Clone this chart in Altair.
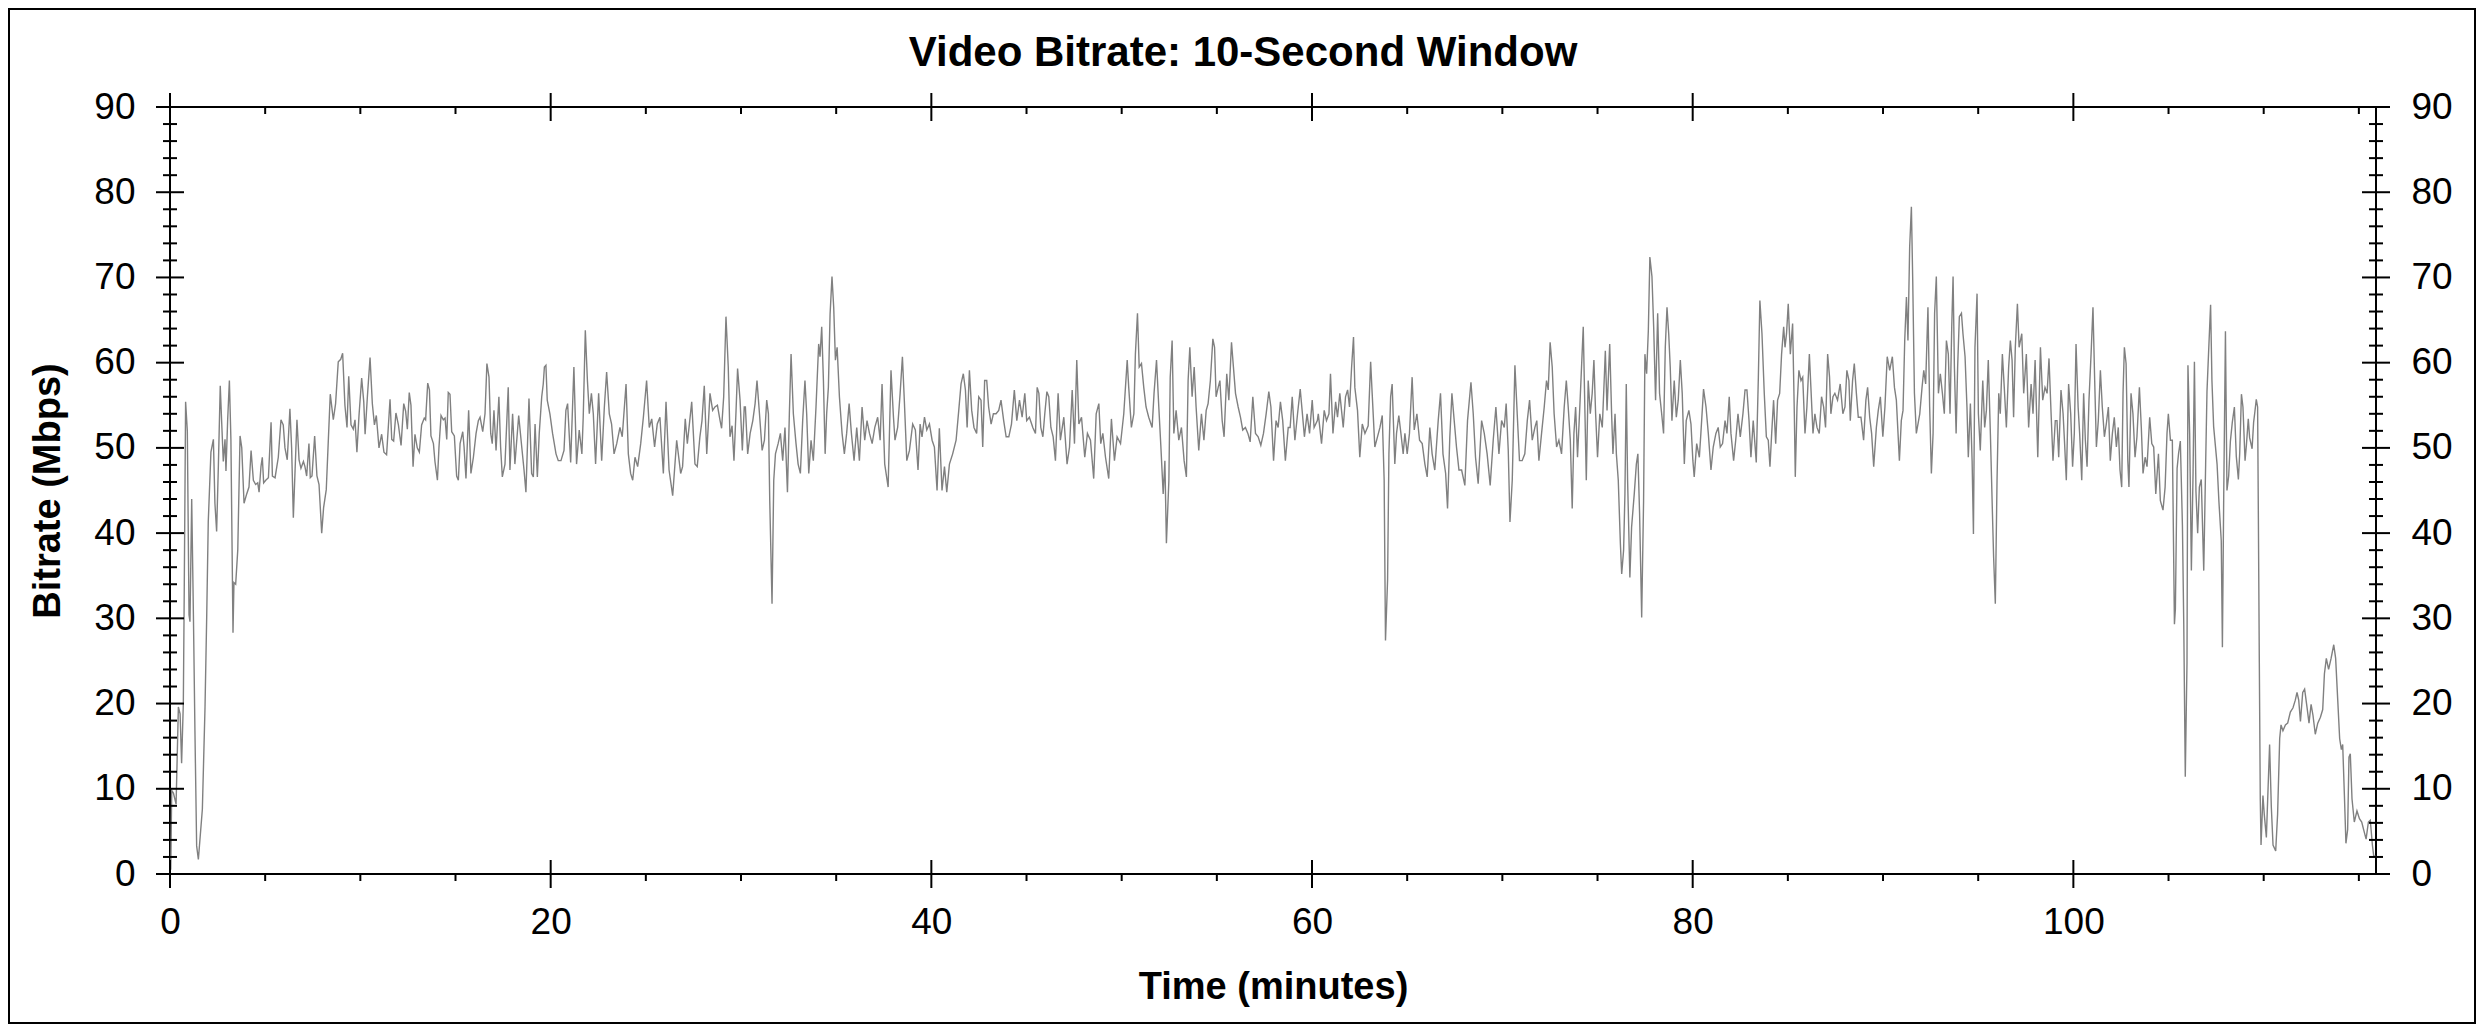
import altair as alt
import pandas as pd

# -----------------------------
# Layout / styling
# -----------------------------
W, H = 2206, 767
X_MAX = 115.9
FONT = "Liberation Sans"
LINE_COLOR = "#808080"
TITLE = "Video Bitrate: 10-Second Window"

# -----------------------------
# Data: (minutes, Mbps), one list per ~15 min
# -----------------------------
seg_00_15 = [
    (0.04, 0.5), (0.09, 9.8), (0.18, 9.5), (0.32, 8.2), (0.44, 19.6), (0.53, 18.8),
    (0.61, 13.0), (0.70, 20.0), (0.75, 33.7), (0.82, 55.4), (0.91, 52.0), (1.00, 30.4),
    (1.05, 29.6), (1.14, 44.0), (1.23, 30.4), (1.31, 16.8), (1.40, 3.3), (1.49, 1.7),
    (1.70, 7.6), (1.84, 19.6), (1.93, 30.4), (2.01, 41.3), (2.15, 49.5), (2.28, 51.0),
    (2.36, 43.5), (2.45, 40.2), (2.54, 47.8), (2.64, 57.3), (2.71, 53.3), (2.80, 48.4),
    (2.89, 51.0), (2.94, 47.3), (3.03, 53.3), (3.12, 57.9), (3.20, 51.0), (3.31, 28.3),
    (3.36, 34.2), (3.45, 34.0), (3.56, 38.0), (3.68, 51.4), (3.77, 50.0), (3.89, 43.5),
    (4.03, 44.6), (4.15, 45.4), (4.26, 49.7), (4.38, 46.2), (4.50, 45.7), (4.61, 45.9),
    (4.68, 44.8), (4.78, 47.8), (4.85, 48.9), (4.92, 45.9), (5.03, 46.2), (5.17, 46.5),
    (5.31, 53.0), (5.38, 46.7), (5.52, 46.5), (5.69, 48.9), (5.83, 53.3), (5.95, 52.7),
    (6.04, 50.0), (6.16, 48.6), (6.30, 54.6), (6.39, 50.0), (6.48, 41.8), (6.57, 47.3),
    (6.67, 53.3), (6.78, 48.6), (6.88, 47.6), (7.01, 48.4), (7.09, 47.8), (7.18, 46.7),
    (7.30, 50.5), (7.37, 46.5), (7.46, 46.7), (7.60, 51.4), (7.72, 46.7), (7.83, 45.7),
    (7.97, 40.0), (8.07, 43.0), (8.21, 45.1), (8.32, 51.0), (8.42, 56.3), (8.58, 53.3),
    (8.70, 55.2), (8.84, 60.1), (8.97, 60.4), (9.07, 61.1), (9.19, 55.0), (9.30, 52.4),
    (9.39, 58.4), (9.51, 52.7), (9.63, 52.2), (9.72, 53.3), (9.82, 49.5), (9.93, 53.8),
    (10.07, 58.2), (10.18, 55.4), (10.25, 51.6), (10.37, 56.0), (10.51, 60.6), (10.63, 55.2),
    (10.74, 52.7), (10.84, 53.8), (10.98, 50.0), (11.12, 51.6), (11.24, 49.5), (11.38, 49.2),
    (11.56, 55.7), (11.65, 51.0), (11.75, 50.8), (11.87, 54.1), (12.00, 52.7), (12.14, 50.3),
    (12.28, 55.2), (12.38, 54.3), (12.47, 52.2), (12.57, 56.5), (12.66, 55.0), (12.77, 47.8),
    (12.87, 51.6), (12.99, 50.0), (13.10, 49.5), (13.22, 52.7), (13.36, 53.5), (13.43, 53.3),
    (13.54, 57.6), (13.63, 56.8), (13.71, 51.4), (13.84, 50.5), (13.92, 48.4), (14.05, 46.2),
    (14.13, 50.0), (14.24, 53.8), (14.36, 53.3), (14.45, 53.5), (14.54, 51.0), (14.62, 56.5),
    (14.71, 56.3), (14.80, 51.9), (14.94, 51.4), (15.06, 46.7), (15.15, 46.2), (15.24, 50.5),
]

seg_15_30 = [
    (15.38, 51.9), (15.45, 50.1), (15.55, 46.4), (15.69, 54.4), (15.81, 47.0), (15.94, 48.9),
    (16.08, 51.7), (16.20, 53.2), (16.29, 53.6), (16.43, 51.9), (16.55, 54.0), (16.65, 59.9),
    (16.76, 58.3), (16.85, 51.7), (16.93, 50.5), (17.02, 54.4), (17.13, 49.7), (17.28, 56.0),
    (17.37, 50.1), (17.46, 46.6), (17.60, 48.1), (17.77, 57.1), (17.86, 47.4), (18.00, 54.0),
    (18.12, 48.1), (18.32, 53.8), (18.48, 50.1), (18.60, 47.4), (18.70, 44.8), (18.86, 55.8),
    (19.00, 47.0), (19.09, 46.6), (19.18, 52.8), (19.30, 46.6), (19.40, 51.7), (19.53, 56.0),
    (19.61, 57.5), (19.67, 59.5), (19.75, 59.7), (19.82, 55.6), (19.96, 54.0), (20.10, 51.7),
    (20.28, 49.3), (20.40, 48.5), (20.54, 48.5), (20.70, 49.7), (20.80, 54.4), (20.89, 55.2),
    (21.05, 48.3), (21.22, 59.5), (21.36, 48.1), (21.50, 52.1), (21.64, 49.3), (21.71, 53.6),
    (21.82, 63.8), (21.93, 57.9), (22.03, 54.0), (22.14, 56.4), (22.24, 54.0), (22.36, 48.1),
    (22.52, 56.4), (22.68, 48.5), (22.82, 54.8), (22.94, 58.9), (23.08, 54.0), (23.20, 52.8),
    (23.33, 49.3), (23.47, 50.5), (23.64, 52.4), (23.76, 51.3), (23.96, 57.5), (24.08, 49.3),
    (24.20, 47.0), (24.31, 46.2), (24.43, 48.9), (24.57, 47.8), (24.73, 50.5), (24.87, 53.6),
    (25.04, 57.9), (25.18, 52.4), (25.31, 53.4), (25.46, 50.1), (25.60, 52.8), (25.74, 53.6),
    (25.92, 47.0), (26.06, 55.4), (26.22, 47.4), (26.41, 44.4), (26.62, 50.9), (26.83, 47.0),
    (26.93, 47.8), (27.07, 53.4), (27.18, 50.5), (27.41, 55.4), (27.58, 48.1), (27.70, 47.8),
    (27.84, 51.3), (27.95, 53.2), (28.07, 57.3), (28.20, 49.3), (28.37, 56.4), (28.51, 54.4),
    (28.63, 54.8), (28.76, 55.0), (28.90, 53.2), (28.98, 52.3), (29.09, 56.0), (29.21, 65.4),
    (29.33, 59.5), (29.42, 51.3), (29.53, 52.6), (29.63, 48.5), (29.74, 54.4), (29.82, 59.3),
    (29.95, 55.6), (30.07, 49.7), (30.17, 54.8),
]

seg_30_45 = [
    (30.23, 54.8), (30.35, 49.3), (30.48, 51.7), (30.62, 53.2), (30.74, 55.2), (30.84, 57.9),
    (30.97, 54.0), (31.11, 49.7), (31.23, 50.9), (31.35, 55.6), (31.44, 54.0), (31.51, 43.8),
    (31.63, 31.7), (31.72, 46.2), (31.81, 49.3), (31.95, 50.5), (32.07, 51.7), (32.19, 48.5),
    (32.31, 52.4), (32.44, 44.8), (32.54, 54.0), (32.63, 61.0), (32.75, 54.0), (32.89, 50.5),
    (33.00, 48.1), (33.12, 47.0), (33.24, 53.2), (33.36, 57.9), (33.45, 54.0), (33.56, 47.0),
    (33.68, 50.9), (33.80, 48.5), (33.94, 54.8), (34.08, 62.2), (34.15, 60.7), (34.24, 64.2),
    (34.33, 57.9), (34.42, 49.3), (34.50, 54.0), (34.59, 57.1), (34.68, 65.7), (34.78, 70.1),
    (34.87, 66.5), (34.96, 60.3), (35.05, 61.8), (35.17, 56.0), (35.31, 51.7), (35.43, 49.3),
    (35.55, 51.7), (35.68, 55.2), (35.80, 51.7), (35.94, 48.5), (36.08, 52.4), (36.22, 48.5),
    (36.36, 54.8), (36.50, 50.9), (36.62, 53.2), (36.75, 51.7), (36.89, 50.5), (37.03, 52.4),
    (37.18, 53.6), (37.31, 50.9), (37.41, 57.5), (37.55, 48.1), (37.73, 45.4), (37.88, 59.1),
    (38.01, 53.6), (38.09, 50.9), (38.23, 52.4), (38.36, 56.4), (38.48, 60.7), (38.58, 55.6),
    (38.71, 48.5), (38.85, 49.7), (39.02, 52.8), (39.16, 52.1), (39.30, 47.4), (39.41, 52.8),
    (39.51, 51.3), (39.64, 53.6), (39.76, 52.1), (39.90, 52.8), (40.04, 50.9), (40.16, 50.1),
    (40.30, 45.0), (40.42, 52.3), (40.56, 45.0), (40.69, 47.8), (40.81, 44.8), (40.95, 48.1),
    (41.12, 49.3), (41.30, 50.9), (41.44, 54.4), (41.56, 57.5), (41.68, 58.7), (41.79, 56.8),
    (41.88, 52.4), (42.00, 59.1), (42.12, 54.4), (42.24, 52.4), (42.38, 51.7), (42.49, 56.0),
    (42.61, 55.6), (42.70, 50.1), (42.80, 57.9), (42.91, 57.9), (43.01, 54.8), (43.14, 52.8),
    (43.26, 54.0), (43.40, 54.0), (43.54, 54.4), (43.66, 55.6), (43.80, 53.2), (43.93, 51.3),
    (44.07, 51.3), (44.21, 52.8), (44.36, 56.8), (44.49, 53.2), (44.63, 55.6), (44.77, 53.6),
    (44.91, 56.4), (45.01, 53.2), (45.15, 53.6), (45.27, 52.8),
]

seg_45_60 = [
    (45.33, 52.4), (45.47, 51.7), (45.56, 57.1), (45.65, 56.4), (45.75, 52.4), (45.86, 51.3),
    (45.96, 54.0), (46.07, 56.6), (46.17, 56.0), (46.28, 52.4), (46.40, 51.3), (46.52, 48.5),
    (46.66, 56.4), (46.78, 50.9), (46.96, 53.6), (47.13, 48.1), (47.26, 50.1), (47.40, 56.8),
    (47.52, 50.5), (47.64, 60.3), (47.75, 52.8), (47.89, 53.6), (48.06, 48.9), (48.20, 51.7),
    (48.36, 50.9), (48.53, 46.4), (48.66, 54.0), (48.80, 55.2), (48.90, 50.5), (49.01, 51.7),
    (49.15, 48.9), (49.32, 46.4), (49.46, 53.4), (49.62, 48.5), (49.76, 51.3), (49.94, 50.5),
    (50.11, 54.0), (50.29, 60.3), (50.37, 57.1), (50.51, 52.4), (50.64, 54.0), (50.72, 61.0),
    (50.83, 65.8), (50.92, 59.5), (51.04, 59.9), (51.16, 57.1), (51.28, 54.8), (51.42, 53.6),
    (51.60, 52.4), (51.70, 56.4), (51.83, 60.3), (51.95, 54.8), (52.06, 50.1), (52.18, 44.6),
    (52.27, 48.5), (52.35, 38.8), (52.48, 46.2), (52.55, 58.3), (52.65, 62.6), (52.74, 51.7),
    (52.86, 54.4), (53.00, 50.9), (53.14, 52.4), (53.28, 48.5), (53.40, 46.6), (53.49, 57.9),
    (53.58, 61.8), (53.70, 56.0), (53.81, 59.5), (53.91, 54.8), (54.05, 49.7), (54.19, 54.0),
    (54.32, 50.9), (54.44, 54.4), (54.54, 55.2), (54.66, 57.9), (54.79, 62.8), (54.88, 61.8),
    (54.96, 56.0), (55.07, 57.1), (55.16, 57.9), (55.28, 53.2), (55.38, 51.3), (55.52, 58.7),
    (55.63, 55.6), (55.77, 62.4), (55.87, 59.5), (55.98, 56.4), (56.12, 54.8), (56.24, 53.6),
    (56.36, 52.1), (56.50, 52.4), (56.63, 51.7), (56.75, 50.7), (56.89, 56.0), (57.03, 51.7),
    (57.17, 51.3), (57.31, 50.3), (57.45, 51.7), (57.59, 54.0), (57.73, 56.6), (57.84, 54.8),
    (57.98, 48.5), (58.11, 53.2), (58.22, 52.4), (58.34, 55.4), (58.46, 53.2), (58.60, 48.5),
    (58.75, 52.4), (58.85, 52.4), (58.96, 56.0), (59.10, 50.9), (59.24, 54.0), (59.38, 56.9),
    (59.48, 54.4), (59.60, 51.3), (59.74, 54.0), (59.87, 51.7), (60.01, 55.6), (60.11, 52.4),
    (60.28, 53.2),
]

seg_60_75 = [
    (60.33, 54.0), (60.50, 50.5), (60.64, 54.4), (60.76, 53.2), (60.89, 54.0), (60.97, 58.7),
    (61.10, 51.7), (61.24, 55.4), (61.34, 53.6), (61.46, 56.4), (61.64, 52.4), (61.76, 56.0),
    (61.87, 56.8), (61.97, 54.8), (62.08, 59.5), (62.18, 63.0), (62.25, 57.1), (62.39, 54.4),
    (62.51, 48.9), (62.64, 52.8), (62.78, 51.7), (62.95, 52.6), (63.08, 60.1), (63.16, 56.4),
    (63.30, 50.1), (63.44, 51.3), (63.57, 52.4), (63.69, 53.8), (63.79, 46.2), (63.86, 27.4),
    (63.97, 34.5), (64.04, 49.3), (64.13, 56.0), (64.21, 57.5), (64.35, 48.1), (64.44, 51.7),
    (64.56, 53.8), (64.67, 51.7), (64.79, 49.3), (64.88, 51.7), (65.00, 49.3), (65.12, 51.7),
    (65.26, 58.3), (65.37, 52.1), (65.51, 54.0), (65.65, 50.9), (65.79, 50.5), (65.93, 48.1),
    (66.05, 46.6), (66.19, 52.4), (66.31, 49.3), (66.45, 47.4), (66.63, 53.2), (66.75, 56.4),
    (66.88, 49.3), (67.02, 47.0), (67.12, 42.9), (67.24, 51.3), (67.35, 56.4), (67.47, 53.2),
    (67.59, 50.1), (67.72, 47.4), (67.86, 47.4), (68.03, 45.6), (68.17, 53.2), (68.35, 57.7),
    (68.47, 54.0), (68.59, 48.9), (68.73, 45.8), (68.91, 53.2), (69.05, 51.7), (69.20, 49.3),
    (69.36, 45.6), (69.52, 50.9), (69.66, 54.8), (69.82, 49.3), (69.96, 53.2), (70.10, 52.4),
    (70.20, 55.2), (70.31, 49.7), (70.40, 41.3), (70.52, 46.2), (70.66, 59.7), (70.78, 54.0),
    (70.90, 48.5), (71.04, 48.5), (71.18, 49.3), (71.31, 53.2), (71.43, 55.6), (71.57, 50.9),
    (71.71, 52.4), (71.81, 53.2), (71.92, 48.5), (72.06, 51.7), (72.20, 54.8), (72.32, 57.9),
    (72.41, 56.8), (72.51, 62.4), (72.62, 59.5), (72.72, 54.0), (72.85, 50.1), (72.97, 50.9),
    (73.11, 49.3), (73.25, 54.8), (73.36, 57.9), (73.46, 54.8), (73.57, 50.9), (73.67, 42.9),
    (73.76, 51.7), (73.85, 54.8), (73.95, 48.9), (74.07, 54.8), (74.16, 59.5), (74.25, 64.2),
    (74.34, 54.0), (74.41, 46.2), (74.51, 57.9), (74.62, 54.0), (74.72, 56.4), (74.81, 60.3),
    (74.90, 54.0), (75.00, 48.9), (75.12, 54.0), (75.25, 52.4), (75.35, 57.9),
]

seg_75_90 = [
    (75.41, 61.4), (75.50, 54.4), (75.64, 62.2), (75.74, 54.0), (75.81, 49.3), (75.92, 54.0),
    (75.99, 49.3), (76.09, 46.2), (76.20, 38.8), (76.27, 35.2), (76.37, 38.0), (76.44, 44.6),
    (76.51, 57.5), (76.58, 46.2), (76.70, 34.8), (76.79, 40.7), (76.93, 44.6), (77.04, 48.1),
    (77.12, 49.3), (77.21, 42.3), (77.32, 30.1), (77.42, 43.8), (77.49, 61.0), (77.58, 58.7),
    (77.67, 63.8), (77.75, 72.4), (77.86, 70.1), (77.95, 64.2), (78.05, 55.6), (78.16, 65.8),
    (78.26, 56.4), (78.37, 54.0), (78.47, 51.7), (78.56, 61.8), (78.65, 66.5), (78.74, 63.4),
    (78.82, 59.5), (78.91, 53.2), (79.03, 57.9), (79.14, 53.6), (79.24, 55.6), (79.35, 60.3),
    (79.45, 56.4), (79.56, 48.1), (79.66, 53.2), (79.80, 54.4), (79.91, 52.8), (80.01, 48.5),
    (80.08, 46.6), (80.21, 50.5), (80.35, 48.9), (80.43, 51.7), (80.57, 56.9), (80.70, 54.8),
    (80.82, 51.7), (80.96, 47.4), (81.08, 50.1), (81.22, 51.7), (81.34, 52.4), (81.45, 50.1),
    (81.57, 50.5), (81.70, 53.2), (81.80, 51.7), (81.92, 56.0), (82.01, 51.7), (82.15, 48.5),
    (82.26, 50.9), (82.38, 54.0), (82.50, 51.3), (82.64, 54.0), (82.75, 56.8), (82.85, 56.8),
    (82.96, 53.2), (83.06, 48.9), (83.18, 53.2), (83.34, 48.3), (83.45, 58.3), (83.53, 67.3),
    (83.64, 63.4), (83.76, 56.4), (83.87, 51.3), (83.97, 50.9), (84.06, 47.8), (84.15, 51.7),
    (84.25, 55.6), (84.36, 50.5), (84.46, 55.6), (84.57, 56.4), (84.67, 61.0), (84.78, 64.2),
    (84.85, 61.8), (84.93, 63.4), (85.02, 66.9), (85.13, 61.0), (85.25, 64.6), (85.34, 54.0),
    (85.39, 46.6), (85.48, 54.8), (85.58, 59.1), (85.69, 57.9), (85.78, 58.3), (85.90, 51.7),
    (86.00, 54.8), (86.13, 61.0), (86.21, 57.1), (86.32, 51.7), (86.42, 54.0), (86.53, 52.4),
    (86.65, 51.7), (86.77, 56.0), (86.88, 54.8), (86.98, 52.4), (87.09, 61.0), (87.19, 58.3),
    (87.26, 54.0), (87.37, 56.0), (87.47, 56.4), (87.61, 55.6), (87.75, 57.5), (87.89, 54.0),
    (88.00, 54.8), (88.10, 59.1), (88.21, 57.9), (88.28, 53.2), (88.40, 57.9), (88.49, 59.9),
    (88.60, 56.4), (88.70, 53.6), (88.84, 53.6), (88.98, 50.9), (89.10, 55.6), (89.19, 57.1),
    (89.30, 53.6), (89.40, 51.7), (89.51, 47.8), (89.65, 52.4), (89.75, 54.4), (89.86, 56.0),
    (89.99, 51.3), (90.10, 54.8), (90.22, 60.7), (90.35, 59.1),
]

seg_90_105 = [
    (90.49, 60.7), (90.60, 57.1), (90.70, 55.6), (90.86, 48.5), (90.96, 53.2), (91.05, 54.4),
    (91.14, 62.6), (91.23, 67.7), (91.31, 62.6), (91.40, 73.6), (91.49, 78.3), (91.56, 69.7),
    (91.65, 56.4), (91.75, 51.7), (91.93, 54.0), (92.05, 57.1), (92.14, 59.1), (92.24, 57.5),
    (92.36, 66.5), (92.45, 54.8), (92.54, 47.0), (92.63, 51.7), (92.71, 65.8), (92.80, 70.1),
    (92.91, 56.4), (93.01, 58.7), (93.12, 56.4), (93.22, 54.0), (93.33, 62.6), (93.43, 61.0),
    (93.52, 54.0), (93.61, 64.2), (93.68, 70.1), (93.75, 59.5), (93.84, 51.7), (93.92, 59.5),
    (94.01, 65.4), (94.12, 65.8), (94.20, 63.4), (94.31, 60.7), (94.41, 54.8), (94.48, 48.9),
    (94.59, 55.2), (94.68, 48.5), (94.75, 39.9), (94.83, 61.8), (94.94, 68.1), (95.01, 54.0),
    (95.11, 49.7), (95.24, 57.9), (95.34, 52.4), (95.43, 54.4), (95.53, 60.3), (95.64, 51.7),
    (95.74, 43.0), (95.81, 37.2), (95.90, 31.7), (95.99, 46.2), (96.08, 56.4), (96.16, 54.0),
    (96.27, 61.0), (96.37, 57.1), (96.48, 52.4), (96.60, 59.5), (96.69, 62.6), (96.78, 60.3),
    (96.86, 53.6), (96.95, 61.8), (97.06, 66.9), (97.15, 61.8), (97.29, 63.4), (97.39, 56.4),
    (97.53, 61.0), (97.65, 52.4), (97.78, 57.5), (97.88, 54.0), (97.99, 60.3), (98.13, 48.9),
    (98.27, 61.8), (98.39, 55.6), (98.51, 57.1), (98.62, 56.4), (98.72, 60.5), (98.83, 54.0),
    (98.93, 48.5), (99.05, 53.2), (99.14, 53.2), (99.23, 48.9), (99.35, 56.8), (99.46, 54.0),
    (99.54, 50.5), (99.63, 46.2), (99.75, 57.5), (99.86, 54.0), (99.96, 47.8), (100.05, 51.7),
    (100.14, 62.2), (100.25, 54.8), (100.33, 51.7), (100.44, 46.2), (100.54, 56.4), (100.63, 50.9),
    (100.72, 47.8), (100.82, 55.6), (100.93, 61.0), (101.03, 66.5), (101.12, 57.9), (101.21, 50.1),
    (101.31, 53.2), (101.42, 59.1), (101.52, 54.8), (101.63, 51.3), (101.73, 52.8), (101.84, 54.8),
    (101.94, 48.5), (102.05, 51.7), (102.15, 53.6), (102.26, 50.1), (102.36, 52.4), (102.45, 47.4),
    (102.54, 45.4), (102.61, 56.4), (102.68, 61.8), (102.77, 59.9), (102.86, 48.5), (102.92, 45.4),
    (103.03, 56.4), (103.13, 54.0), (103.24, 48.9), (103.34, 51.3), (103.47, 57.1), (103.57, 52.4),
    (103.66, 47.0), (103.77, 48.9), (103.87, 47.8), (104.01, 53.6), (104.12, 50.5), (104.22, 50.1),
    (104.33, 44.6), (104.47, 49.3), (104.57, 43.8), (104.71, 42.7), (104.82, 45.4), (104.92, 51.7),
    (104.99, 54.0), (105.10, 50.9), (105.20, 50.9),
]

seg_105_116 = [
    (105.31, 29.3), (105.36, 31.1), (105.45, 47.6), (105.53, 49.4), (105.62, 50.8), (105.73, 40.9),
    (105.80, 29.3), (105.88, 11.4), (105.97, 24.8), (106.02, 59.7), (106.11, 51.7), (106.20, 35.6),
    (106.29, 47.2), (106.36, 60.1), (106.44, 44.9), (106.53, 40.0), (106.62, 45.4), (106.72, 46.3),
    (106.85, 35.6), (106.95, 48.1), (107.02, 56.6), (107.11, 61.5), (107.21, 66.8), (107.28, 57.9),
    (107.37, 52.5), (107.46, 50.3), (107.55, 48.1), (107.65, 43.6), (107.77, 39.1), (107.83, 26.6),
    (107.90, 44.5), (107.99, 63.7), (108.07, 45.0), (108.16, 46.7), (108.25, 50.8), (108.35, 53.0),
    (108.46, 54.8), (108.56, 49.0), (108.67, 46.3), (108.74, 49.4), (108.83, 56.3), (108.91, 54.8),
    (109.02, 48.5), (109.09, 50.3), (109.19, 53.4), (109.26, 51.2), (109.39, 49.9), (109.47, 53.0),
    (109.54, 54.3), (109.61, 55.7), (109.68, 54.8), (109.72, 41.8), (109.77, 24.8), (109.82, 8.8),
    (109.86, 3.4), (109.96, 9.2), (110.03, 7.0), (110.14, 4.3), (110.23, 10.1), (110.31, 15.2),
    (110.40, 7.9), (110.49, 3.4), (110.63, 2.7), (110.73, 7.0), (110.84, 15.9), (110.91, 17.5),
    (111.01, 16.8), (111.14, 17.5), (111.26, 17.7), (111.40, 19.0), (111.54, 19.5), (111.66, 20.4),
    (111.75, 21.3), (111.84, 20.4), (111.93, 17.9), (112.05, 21.3), (112.15, 21.7), (112.28, 19.5),
    (112.38, 17.7), (112.49, 19.9), (112.59, 18.6), (112.71, 16.4), (112.84, 17.7), (112.98, 18.4),
    (113.10, 19.3), (113.19, 23.5), (113.29, 25.3), (113.41, 24.0), (113.54, 25.3), (113.68, 26.9),
    (113.78, 25.3), (113.89, 20.4), (113.99, 15.9), (114.08, 14.6), (114.15, 15.2), (114.24, 9.2),
    (114.32, 3.6), (114.41, 5.2), (114.48, 13.7), (114.55, 14.1), (114.64, 8.8), (114.76, 6.1),
    (114.90, 7.4), (115.03, 6.5), (115.15, 6.1), (115.25, 5.2), (115.38, 4.1), (115.50, 6.1),
    (115.60, 6.3), (115.71, 3.4), (115.78, 2.1), (115.88, 2.1),
]

# axis tick values
y_major = list(range(0, 91, 10))
y_minor = [v for v in range(0, 91, 2) if v % 10]
x_major = [0, 20, 40, 60, 80, 100]
x_minor = [v for v in range(5, 116, 5) if v % 20]

rows = (seg_00_15 + seg_15_30 + seg_30_45 + seg_45_60
        + seg_60_75 + seg_75_90 + seg_90_105 + seg_105_116)
df = pd.DataFrame(rows, columns=["minutes", "mbps"])

x_scale = alt.Scale(domain=[0, X_MAX], nice=False, zero=False)
y_scale = alt.Scale(domain=[0, 90], nice=False)

common_axis = dict(grid=False, domain=False, ticks=False, tickSize=0,
                   labelFont=FONT, labelFontSize=37, labelColor="black",
                   titleFont=FONT, titleFontSize=38, titleFontWeight="bold",
                   titleColor="black", labelOverlap=False, labelFlush=False)

line = (
    alt.Chart(df)
    .mark_line(color=LINE_COLOR, strokeWidth=1.4)
    .encode(
        x=alt.X("minutes:Q", scale=x_scale,
                axis=alt.Axis(values=x_major, title="Time (minutes)", labelPadding=30,
                              titleY=124, titleBaseline="alphabetic", **common_axis)),
        y=alt.Y("mbps:Q", scale=y_scale,
                axis=alt.Axis(orient="left", values=y_major, title="Bitrate (Mbps)",
                              labelPadding=35, titleX=-111, titleBaseline="alphabetic",
                              **common_axis)),
    )
)


# tick marks drawn as rules through the shared scales (they cross the frame)
def y_ticks(vals, x0, x1):
    return (
        alt.Chart(pd.DataFrame({"v": vals}))
        .mark_rule(color="black", strokeWidth=2)
        .encode(y=alt.Y("v:Q", scale=y_scale), x=alt.value(x0), x2=alt.value(x1))
    )


def x_ticks(vals, y0, y1):
    return (
        alt.Chart(pd.DataFrame({"v": vals}))
        .mark_rule(color="black", strokeWidth=2)
        .encode(x=alt.X("v:Q", scale=x_scale), y=alt.value(y0), y2=alt.value(y1))
    )


ticks = [
    y_ticks(y_major, -14, 14), y_ticks(y_minor, -7, 7),
    y_ticks(y_major, W - 14, W + 14), y_ticks(y_minor, W - 7, W + 7),
    x_ticks(x_major, H - 14, H + 14), x_ticks(x_minor, H, H + 7),
    x_ticks(x_major, -14, 14), x_ticks(x_minor, 0, 7),
]

one = pd.DataFrame({"t": [TITLE]})
title = (
    alt.Chart(one)
    .mark_text(font=FONT, fontSize=42, fontWeight="bold", align="center",
               baseline="alphabetic", color="black")
    .encode(text="t:N", x=alt.value(1073), y=alt.value(-41))
)
border = (
    alt.Chart(one)
    .mark_rect(fillOpacity=0, stroke="black", strokeWidth=2)
    .encode(x=alt.value(-161), x2=alt.value(W + 99), y=alt.value(-98), y2=alt.value(H + 149))
)

left = alt.layer(line, *ticks, title, border)

right = (
    alt.Chart(pd.DataFrame({"v": y_major}))
    .mark_rule(opacity=0)
    .encode(y=alt.Y("v:Q", scale=y_scale,
                    axis=alt.Axis(orient="right", values=y_major, title=None,
                                  labelPadding=35, **common_axis)))
)

chart = (
    alt.layer(left, right)
    .resolve_scale(y="independent")
    .properties(
        width=W,
        height=H,
        autosize=alt.AutoSizeParams(type="none"),
        padding={"left": 162, "top": 99, "right": 100, "bottom": 150},
        background="white",
    )
    .configure_view(stroke="black", strokeWidth=2)
)

chart.save("out.html", embed_options={"renderer": "svg", "actions": False})
